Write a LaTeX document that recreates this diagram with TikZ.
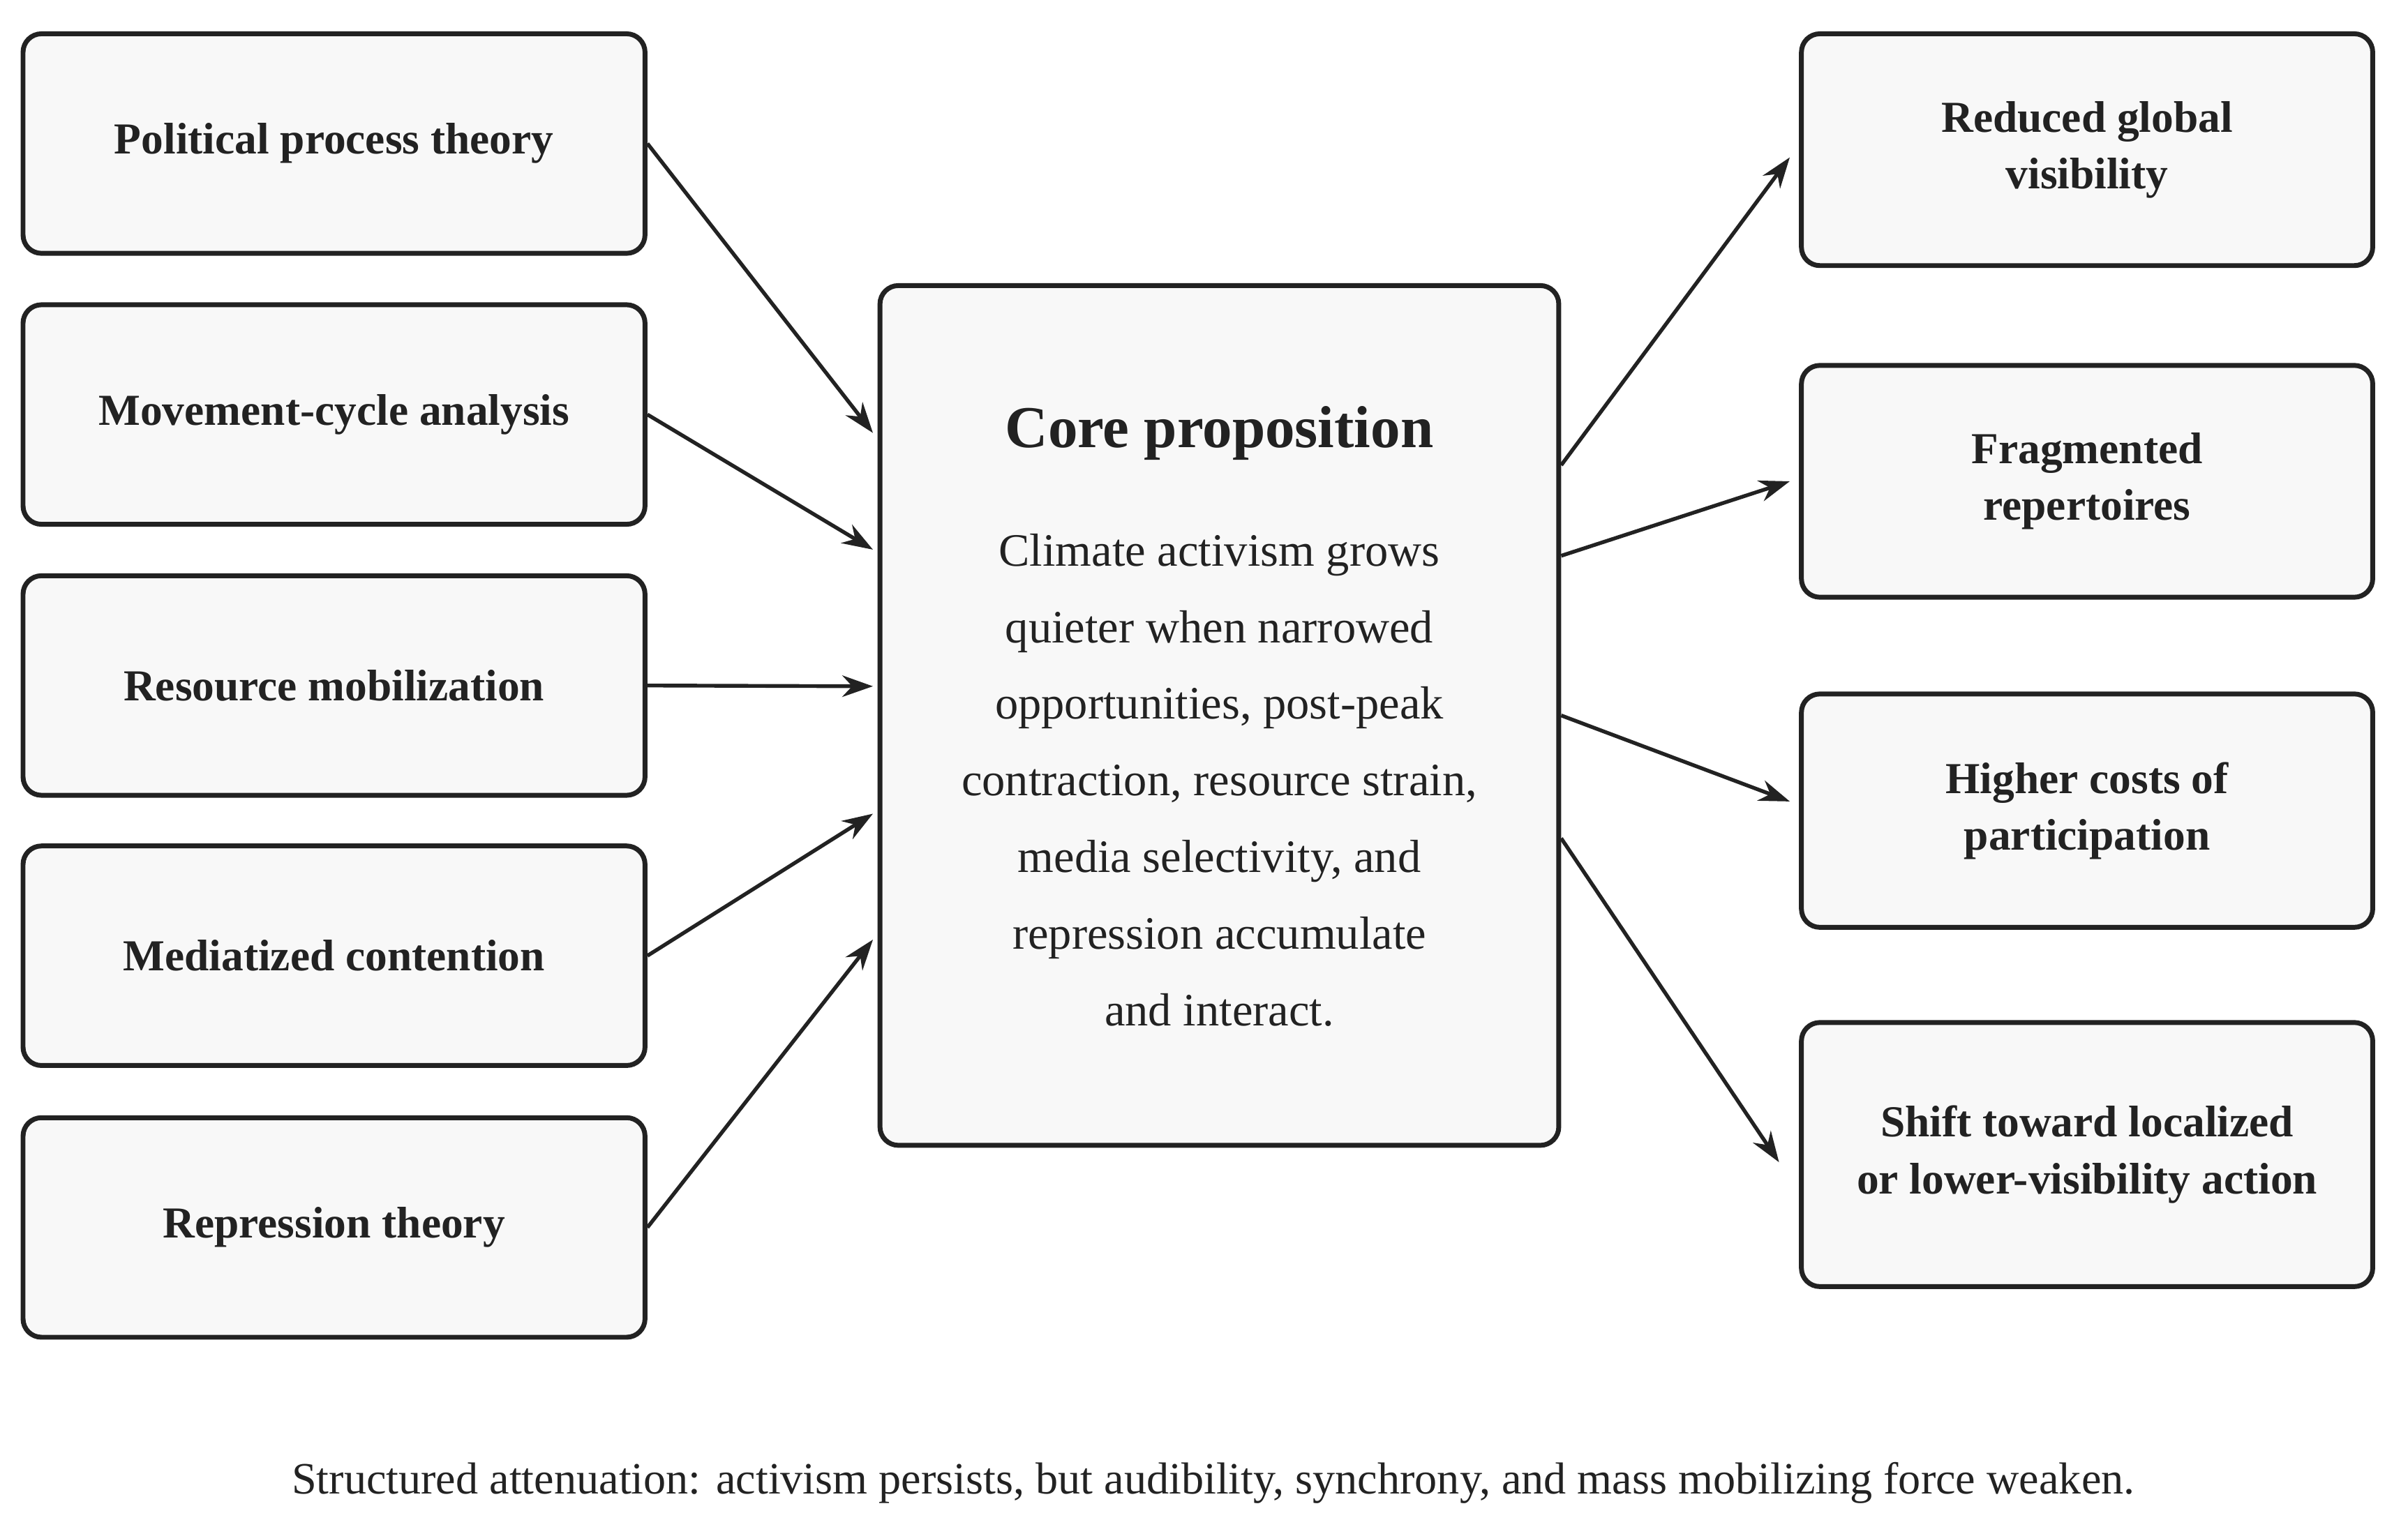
\documentclass[tikz,border=0pt]{standalone}
\usepackage{fontspec}
\setmainfont{Liberation Serif}
\usetikzlibrary{arrows.meta}
\definecolor{boxfill}{HTML}{F8F8F8}
\definecolor{ink}{HTML}{222222}
\tikzset{
    box/.style={draw=ink,line width=0.9pt,rounded corners=0.12cm,fill=boxfill,
        align=center,font=\fontsize{8.2}{10.5}\selectfont\bfseries,text=ink},
    link/.style={draw=ink,line width=0.7pt,-{Stealth[length=0.2cm,width=0.14cm]}}
}
\begin{document}
\begin{tikzpicture}
    \useasboundingbox (0,0) rectangle (15.68,-9.9);
    % theories
    \foreach \n/\y/\t in {p1/0.935/Political process theory,p2/2.70/Movement-cycle analysis,
            p3/4.465/Resource mobilization,p4/6.225/Mediatized contention,p5/7.995/Repression theory}{
            \node[box,minimum width=4.05cm,minimum height=1.43cm] (\n) at (2.175,-\y) {\t};}
    % core
    \node[box,minimum width=4.42cm,minimum height=5.6cm] (core) at (7.94,-4.66) {};
    \node[font=\fontsize{11}{13}\selectfont\bfseries,text=ink] (title) at (7.94,-2.82) {Core proposition};
    \node[align=center,text=ink,font=\fontsize{8.6}{14.2}\selectfont] (body) at (7.94,-5.08)
        {Climate activism grows\\quieter when narrowed\\opportunities, post-peak\\contraction, resource strain,\\media selectivity, and\\repression accumulate\\and interact.};
    % effects
    \node[box,minimum width=3.72cm,minimum height=1.51cm] (r1) at (13.59,-0.975) {Reduced global\\visibility};
    \node[box,minimum width=3.72cm,minimum height=1.51cm] (r2) at (13.59,-3.135) {Fragmented\\repertoires};
    \node[box,minimum width=3.72cm,minimum height=1.52cm] (r3) at (13.59,-5.28) {Higher costs of\\participation};
    \node[box,minimum width=3.72cm,minimum height=1.72cm] (r4) at (13.59,-7.52) {Shift toward localized\\or lower-visibility action};
    % arrows in
    \draw[link] (p1.east) -- ([xshift=-0.03cm,yshift=1.84cm]core.west);
    \draw[link] (p2.east) -- ([xshift=-0.03cm,yshift=1.08cm]core.west);
    \draw[link] (p3.east) -- ([xshift=-0.03cm,yshift=0.19cm]core.west);
    \draw[link] (p4.east) -- ([xshift=-0.03cm,yshift=-0.64cm]core.west);
    \draw[link] (p5.east) -- ([xshift=-0.03cm,yshift=-1.46cm]core.west);
    % arrows out
    \draw[link] ([yshift=1.63cm]core.east) -- ([xshift=-0.06cm,yshift=-0.05cm]r1.west);
    \draw[link] ([yshift=1.04cm]core.east) -- ([xshift=-0.06cm]r2.west);
    \draw[link] (core.east) -- ([xshift=-0.06cm,yshift=0.06cm]r3.west);
    \draw[link] ([yshift=-0.8cm]core.east) -- ([xshift=-0.13cm,yshift=-0.05cm]r4.west);
    \node[text=ink,font=\fontsize{8.3}{10}\selectfont] (caption) at (7.9,-9.66)
        {Structured attenuation: activism persists, but audibility, synchrony, and mass mobilizing force weaken.};
\end{tikzpicture}
\end{document}
